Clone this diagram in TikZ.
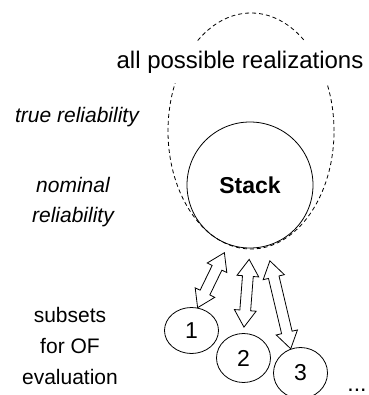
\documentclass[tikz,border=0pt]{standalone}
\usepackage{fontspec}
\setmainfont{Liberation Sans}
\usetikzlibrary{calc,shapes.geometric,shapes.arrows,positioning}
\tikzstyle{vertex}=[draw,circle,inner sep=0pt]
\tikzstyle{subset}=[draw,ellipse,inner sep=0pt,minimum width=54pt,font=\fontsize{23}{27}\selectfont]
\tikzstyle{remark}=[align=center,font=\fontsize{21}{30}\selectfont]
\tikzstyle{twoway}=[draw,fill=white,double arrow,double arrow head extend=5.5pt,
  double arrow tip angle=66,inner xsep=0pt,inner ysep=5pt]
\newcommand{\twowayarrow}[2]{%
  \path let \p1=(#1), \p2=(#2), \p3=($(\p2)-(\p1)$),
    \n1={atan2(\y3,\x3)}, \n2={veclen(\x3,\y3)} in
    node[twoway,rotate=\n1,minimum height=\n2] at ($(\p1)!0.5!(\p2)$) {};}

\begin{document}
\begin{tikzpicture}[
  x=1pt,y=-1pt,
  line width=0.8pt,
]
\useasboundingbox (0,0) rectangle (368,395);
\node [draw,ellipse,dash pattern=on 4pt off 3pt,minimum width=166pt,minimum height=236pt,inner sep=0pt] (all) at (251,131) {};
\node [vertex,minimum size=126pt,font=\fontsize{23}{27}\selectfont\bfseries] (stack) at (250,185) {Stack};
\node [fill=white,inner xsep=2pt,inner ysep=10pt,font=\fontsize{24}{28}\selectfont] (realiz) at (240,62) {all possible realizations};
\node [remark,font=\fontsize{21}{30}\selectfont\itshape] (truerel) at (77,117) {true reliability};
\node [remark,font=\fontsize{21}{30}\selectfont\itshape] (nomrel) at (73,202) {nominal\\reliability};
\node [remark,font=\fontsize{21}{31}\selectfont] (subsets) at (70,346) {subsets\\for OF\\evaluation};
\node [subset,minimum height=46pt] (s1) at (191.5,330.5) {1};
\node [subset,minimum height=49pt] (s2) at (243.5,358) {2};
\node [subset,minimum height=51pt] (s3) at (300.5,373) {3};
\node [anchor=base,inner sep=0pt,font=\fontsize{23}{27}\selectfont] (more) at (357,391) {...};
\twowayarrow{$(stack.250)!9pt!(s1.75)$}{s1.75}
\twowayarrow{$(stack.270)!11pt!(s2.90)$}{$(s2.90)!6pt!(stack.270)$}
\twowayarrow{$(stack.285)!15pt!(s3.112)$}{s3.112}

\end{tikzpicture}
\end{document}
